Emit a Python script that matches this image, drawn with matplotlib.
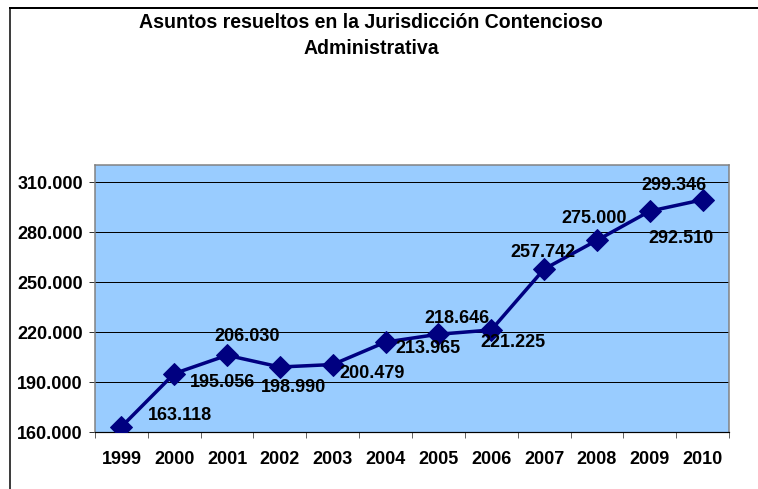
import matplotlib.pyplot as plt
from matplotlib.lines import Line2D

years = ['1999', '2000', '2001', '2002', '2003', '2004', '2005', '2006',
         '2007', '2008', '2009', '2010']
values = [163118, 195056, 206030, 198990, 200479, 213965, 218646, 221225,
          257742, 275000, 292510, 299346]
labels = ['163.118', '195.056', '206.030', '198.990', '200.479', '213.965',
          '218.646', '221.225', '257.742', '275.000', '292.510', '299.346']
yticks = [160000, 190000, 220000, 250000, 280000, 310000]
ytick_labels = ['160.000', '190.000', '220.000', '250.000', '280.000', '310.000']
# label offsets in pixels (dpi 72 -> points == pixels)
offsets = [(59, 11), (48, -9), (20, 19), (14, -20), (39, -9), (42, -6),
           (19, 16), (22, -13), (-1, 17), (-3, 22), (31, -27), (-29, 14)]

W, H = 758, 489
plt.rcParams['font.family'] = ['Liberation Sans', 'DejaVu Sans']
fig = plt.figure(figsize=(W / 72, H / 72), dpi=72)
ax = fig.add_axes([95 / W, 1 - 432 / H, (729 - 95) / W, (432 - 165) / H])
ax.set_facecolor('#99CCFF')

x = list(range(len(years)))
ax.plot(x, values, color='#000080', lw=3.5, marker='D', ms=15, zorder=3)

for i, (v, lab) in enumerate(zip(values, labels)):
    ax.annotate(lab, (i, v), xytext=offsets[i], textcoords='offset points',
                ha='center', va='center', fontsize=18, fontweight='bold')

ax.set_xlim(-0.5, len(years) - 0.5)
ax.set_ylim(160000, 320200)
ax.set_yticks(yticks)
ax.set_yticklabels(ytick_labels, fontsize=18, fontweight='bold')
ax.set_xticks(x)
ax.set_xticklabels(years, fontsize=18, fontweight='bold')
ax.set_xticks([i - 0.5 for i in range(len(years) + 1)], minor=True)
ax.tick_params(axis='x', which='major', length=0, pad=19)
ax.tick_params(axis='x', which='minor', length=6, direction='out', color='black')
ax.tick_params(axis='y', length=6, direction='out', pad=6)
ax.grid(axis='y', color='black', lw=1)
ax.set_axisbelow(True)

for s in ['top', 'right', 'left']:
    ax.spines[s].set_color('#808080')
    ax.spines[s].set_linewidth(1.5)
ax.spines['bottom'].set_color('black')
ax.spines['bottom'].set_linewidth(1.2)

fig.text(371 / W, 1 - 23 / H, 'Asuntos resueltos en la Jurisdicción Contencioso',
         ha='center', va='center', fontsize=19.5, fontweight='bold')
fig.text(371 / W, 1 - 49 / H, 'Administrativa',
         ha='center', va='center', fontsize=19.5, fontweight='bold')

# outer frame (top and left edges)
fig.add_artist(Line2D([10 / W, 1], [1 - 8 / H, 1 - 8 / H], color='black', lw=2))
fig.add_artist(Line2D([10 / W, 10 / W], [0, 1 - 8 / H], color='black', lw=1.5))

fig.savefig('out.png', dpi=72)
